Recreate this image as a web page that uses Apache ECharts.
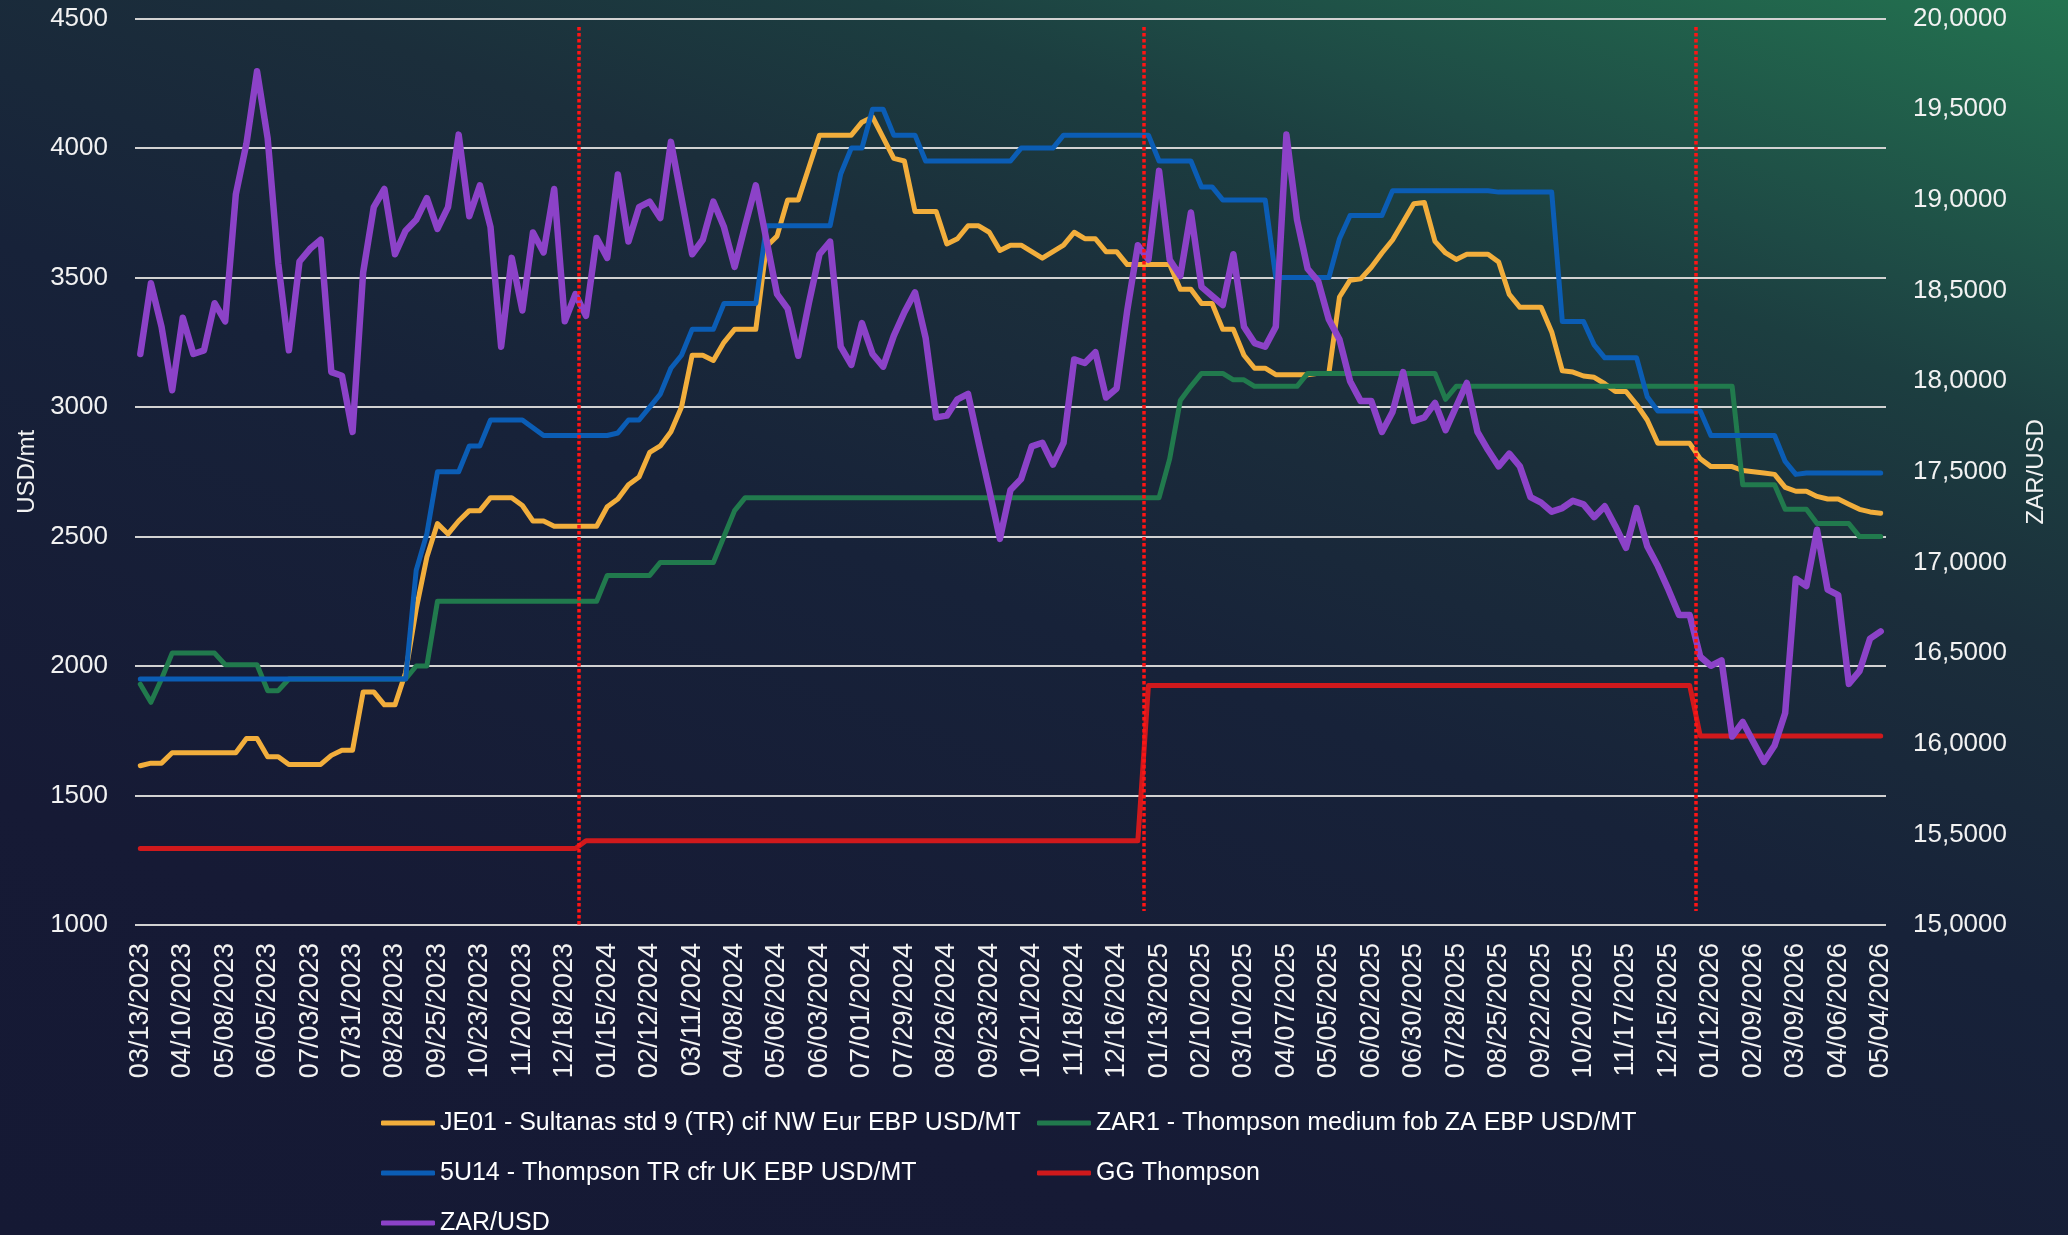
<!DOCTYPE html>
<html>
<head>
<meta charset="utf-8">
<title>Sultanas / Thompson prices vs ZAR/USD</title>
<script src="https://cdn.jsdelivr.net/npm/echarts@6/dist/echarts.min.js"></script>
<style>
  html, body { margin: 0; padding: 0; width: 2068px; height: 1235px; overflow: hidden; }
  body {
    background: linear-gradient(200deg, #237350 0%, #1e4a45 17%, #1c3e40 22%, #1b2e3b 33%, #172239 50%, #161a35 78%, #151934 100%);
  }
  #chart { width: 2068px; height: 1235px; }
</style>
</head>
<body>
<div id="chart"></div>
<script>
// weekly series, first week 03/13/2023
const seriesNames = [
  'JE01 - Sultanas std 9 (TR) cif NW Eur EBP USD/MT',
  'ZAR1 - Thompson medium fob ZA EBP USD/MT',
  '5U14 - Thompson TR cfr UK EBP USD/MT',
  'GG Thompson',
  'ZAR/USD'
];

const je01 = [
  1615,1625,1625,1665,1665,1665,1665,1665,1665,1665,
  1720,1720,1650,1650,1620,1620,1620,1620,1655,1675,
  1675,1900,1900,1850,1850,1975,2220,2420,2550,2510,
  2560,2600,2600,2650,2650,2650,2620,2560,2560,2540,
  2540,2540,2540,2540,2615,2645,2700,2730,2825,2850,
  2905,3000,3200,3200,3180,3250,3300,3300,3300,3620,
  3660,3800,3800,3925,4050,4050,4050,4050,4100,4120,
  4040,3960,3950,3755,3755,3755,3630,3650,3700,3700,
  3675,3605,3625,3625,3600,3575,3600,3625,3675,3650,
  3650,3600,3600,3550,3550,3550,3550,3550,3455,3455,
  3400,3400,3300,3300,3200,3150,3150,3125,3125,3125,
  3125,3130,3130,3425,3490,3495,3540,3595,3645,3715,
  3785,3790,3640,3595,3570,3590,3590,3590,3560,3435,
  3385,3385,3385,3290,3140,3135,3120,3115,3090,3060,
  3060,3010,2950,2860,2860,2860,2860,2800,2770,2770,
  2770,2755,2750,2745,2740,2690,2675,2675,2655,2645,
  2645,2625,2605,2595,2590
];

const zar1 = [
  1930,1860,1950,2050,2050,2050,2050,2050,2005,2005,
  2005,2005,1905,1905,1950,1950,1950,1950,1950,1950,
  1950,1950,1950,1950,1950,1950,2000,2000,2250,2250,
  2250,2250,2250,2250,2250,2250,2250,2250,2250,2250,
  2250,2250,2250,2250,2350,2350,2350,2350,2350,2400,
  2400,2400,2400,2400,2400,2500,2600,2650,2650,2650,
  2650,2650,2650,2650,2650,2650,2650,2650,2650,2650,
  2650,2650,2650,2650,2650,2650,2650,2650,2650,2650,
  2650,2650,2650,2650,2650,2650,2650,2650,2650,2650,
  2650,2650,2650,2650,2650,2650,2650,2800,3025,3080,
  3130,3130,3130,3105,3105,3080,3080,3080,3080,3080,
  3130,3130,3130,3130,3130,3130,3130,3130,3130,3130,
  3130,3130,3130,3030,3080,3080,3080,3080,3080,3080,
  3080,3080,3080,3080,3080,3080,3080,3080,3080,3080,
  3080,3080,3080,3080,3080,3080,3080,3080,3080,3080,
  3080,2700,2700,2700,2700,2605,2605,2605,2550,2550,
  2550,2550,2500,2500,2500
];

const u514 = [
  1950,1950,1950,1950,1950,1950,1950,1950,1950,1950,
  1950,1950,1950,1950,1950,1950,1950,1950,1950,1950,
  1950,1950,1950,1950,1950,1950,2370,2510,2750,2750,
  2750,2850,2850,2950,2950,2950,2950,2920,2890,2890,
  2890,2890,2890,2890,2890,2900,2950,2950,3000,3050,
  3150,3200,3300,3300,3300,3400,3400,3400,3400,3700,
  3700,3700,3700,3700,3700,3700,3900,4000,4000,4150,
  4150,4050,4050,4050,3950,3950,3950,3950,3950,3950,
  3950,3950,3950,4000,4000,4000,4000,4050,4050,4050,
  4050,4050,4050,4050,4050,4050,3950,3950,3950,3950,
  3850,3850,3800,3800,3800,3800,3800,3500,3500,3500,
  3500,3500,3500,3650,3740,3740,3740,3740,3835,3835,
  3835,3835,3835,3835,3835,3835,3835,3835,3830,3830,
  3830,3830,3830,3830,3330,3330,3330,3240,3190,3190,
  3190,3190,3040,2985,2985,2985,2985,2985,2890,2890,
  2890,2890,2890,2890,2890,2790,2740,2745,2745,2745,
  2745,2745,2745,2745,2745
];

const ggThompson = [
  1295,1295,1295,1295,1295,1295,1295,1295,1295,1295,
  1295,1295,1295,1295,1295,1295,1295,1295,1295,1295,
  1295,1295,1295,1295,1295,1295,1295,1295,1295,1295,
  1295,1295,1295,1295,1295,1295,1295,1295,1295,1295,
  1295,1295,1325,1325,1325,1325,1325,1325,1325,1325,
  1325,1325,1325,1325,1325,1325,1325,1325,1325,1325,
  1325,1325,1325,1325,1325,1325,1325,1325,1325,1325,
  1325,1325,1325,1325,1325,1325,1325,1325,1325,1325,
  1325,1325,1325,1325,1325,1325,1325,1325,1325,1325,
  1325,1325,1325,1325,1325,1925,1925,1925,1925,1925,
  1925,1925,1925,1925,1925,1925,1925,1925,1925,1925,
  1925,1925,1925,1925,1925,1925,1925,1925,1925,1925,
  1925,1925,1925,1925,1925,1925,1925,1925,1925,1925,
  1925,1925,1925,1925,1925,1925,1925,1925,1925,1925,
  1925,1925,1925,1925,1925,1925,1925,1730,1730,1730,
  1730,1730,1730,1730,1730,1730,1730,1730,1730,1730,
  1730,1730,1730,1730,1730
];

const zarUsd = [
  18.15,18.54,18.30,17.95,18.35,18.15,18.17,18.43,18.33,19.03,
  19.31,19.71,19.34,18.65,18.17,18.66,18.73,18.78,18.05,18.03,
  17.72,18.60,18.96,19.06,18.70,18.83,18.89,19.01,18.84,18.96,
  19.36,18.91,19.08,18.85,18.19,18.68,18.39,18.82,18.71,19.06,
  18.33,18.48,18.36,18.79,18.68,19.14,18.77,18.96,18.99,18.90,
  19.32,19.01,18.70,18.78,18.99,18.85,18.63,18.86,19.08,18.78,
  18.48,18.40,18.14,18.43,18.70,18.77,18.19,18.09,18.32,18.15,
  18.08,18.25,18.38,18.49,18.24,17.80,17.81,17.90,17.93,17.66,
  17.40,17.13,17.40,17.46,17.64,17.66,17.54,17.66,18.12,18.10,
  18.16,17.91,17.96,18.39,18.75,18.67,19.16,18.67,18.58,18.93,
  18.52,18.47,18.42,18.70,18.30,18.21,18.19,18.30,19.36,18.89,
  18.62,18.55,18.34,18.23,18.00,17.89,17.89,17.72,17.83,18.05,
  17.78,17.80,17.88,17.73,17.86,17.99,17.72,17.62,17.53,17.60,
  17.53,17.36,17.33,17.28,17.30,17.34,17.32,17.25,17.31,17.20,
  17.08,17.30,17.09,16.98,16.85,16.71,16.71,16.48,16.43,16.46,
  16.04,16.12,16.01,15.90,15.99,16.17,16.91,16.87,17.18,16.85,
  16.82,16.33,16.40,16.58,16.62
];

// red dotted event markers (week index, fractional) and their vertical span in USD/mt
const eventIdx = [41.3, 94.6, 146.6];
const eventTop = 4468;
const eventBottom = [1000, 1054, 1054];

// weekly date categories
const weeks = [];
const t0 = Date.UTC(2023, 2, 13);
for (let i = 0; i < je01.length; i++) {
  const d = new Date(t0 + i * 7 * 86400000);
  const mm = String(d.getUTCMonth() + 1).padStart(2, '0');
  const dd = String(d.getUTCDate()).padStart(2, '0');
  weeks.push(mm + '/' + dd + '/' + d.getUTCFullYear());
}

const colors = ['#f2ae3c', '#217a4d', '#0b5db5', '#d0191c', '#8c42c8'];
const font = "'Liberation Sans', Arial, sans-serif";
const txt = '#f2f2f2';

function lineSeries(k, data, yIdx, width) {
  return {
    name: seriesNames[k],
    type: 'line',
    data: data,
    yAxisIndex: yIdx,
    symbol: 'none',
    color: colors[k],
    lineStyle: { width: width, color: colors[k], cap: 'round', join: 'round' },
    emphasis: { disabled: true }
  };
}

// one legend block per entry, laid out in two columns like the original
const legendSlots = [[381, 1108], [1037, 1108], [381, 1158], [1037, 1158], [381, 1208]];
const legends = seriesNames.map((n, k) => ({
  left: legendSlots[k][0],
  top: legendSlots[k][1],
  padding: 0,
  itemWidth: 54,
  itemHeight: 5,
  icon: 'roundRect',
  selectedMode: false,
  data: [n],
  textStyle: { color: '#ffffff', fontSize: 25, fontFamily: font, lineHeight: 30 }
}));

const chart = echarts.init(document.getElementById('chart'));
chart.setOption({
  backgroundColor: 'transparent',
  animation: false,
  textStyle: { fontFamily: font },
  grid: { left: 135, right: 182, top: 18.6, bottom: 310 },
  legend: legends,
  xAxis: [
    {
      type: 'category',
      data: weeks,
      boundaryGap: true,
      axisLine: { show: false },
      axisTick: { show: false },
      splitLine: { show: false },
      axisLabel: { interval: 3, rotate: 90, margin: 18, color: txt, fontSize: 27, fontFamily: font }
    },
    { type: 'value', min: -0.5, max: 164.5, show: false, splitLine: { show: false } }
  ],
  yAxis: [
    {
      type: 'value',
      min: 1000,
      max: 4500,
      interval: 500,
      name: 'USD/mt',
      nameLocation: 'middle',
      nameRotate: 90,
      nameGap: 96,
      nameTextStyle: { color: txt, fontSize: 24, fontFamily: font },
      axisLine: { show: false },
      axisTick: { show: false },
      axisLabel: { margin: 27, color: txt, fontSize: 26, fontFamily: font, formatter: v => String(v) },
      splitLine: { lineStyle: { color: '#d2d2d2', width: 2 } }
    },
    {
      type: 'value',
      min: 15,
      max: 20,
      interval: 0.5,
      position: 'right',
      name: 'ZAR/USD',
      nameLocation: 'middle',
      nameRotate: 90,
      nameGap: 138,
      nameTextStyle: { color: txt, fontSize: 24, fontFamily: font },
      axisLine: { show: false },
      axisTick: { show: false },
      splitLine: { show: false },
      axisLabel: {
        margin: 27, color: txt, fontSize: 26, fontFamily: font,
        formatter: v => v.toFixed(4).replace('.', ',')
      }
    }
  ],
  series: [
    lineSeries(0, je01, 0, 5),
    lineSeries(1, zar1, 0, 5),
    lineSeries(2, u514, 0, 5),
    lineSeries(3, ggThompson, 0, 5),
    lineSeries(4, zarUsd, 1, 6.5),
    {
      name: 'events',
      type: 'line',
      xAxisIndex: 1,
      yAxisIndex: 0,
      data: [],
      silent: true,
      markLine: {
        symbol: 'none',
        silent: true,
        label: { show: false },
        lineStyle: { color: '#ff1414', width: 3.5, type: [3.5, 2.5] },
        data: eventIdx.map((x, k) => [
          { coord: [x, eventTop] },
          { coord: [x, eventBottom[k]] }
        ])
      }
    }
  ]
});
</script>
</body>
</html>
